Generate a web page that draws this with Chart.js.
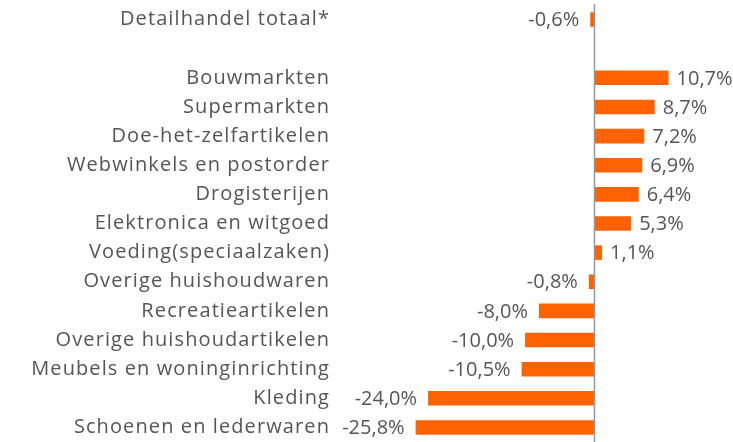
<!DOCTYPE html>
<html>
<head>
<meta charset="utf-8">
<script src="https://cdn.jsdelivr.net/npm/chart.js@4"></script>
<style>
html,body{margin:0;padding:0;background:#fff;}
#wrap{width:733px;height:442px;}
</style>
</head>
<body>
<div id="wrap"><canvas id="c" width="733" height="442"></canvas></div>
<script>
const categories = [
  "Detailhandel totaal*", "",
  "Bouwmarkten", "Supermarkten", "Doe-het-zelfartikelen", "Webwinkels en postorder",
  "Drogisterijen", "Elektronica en witgoed", "Voeding(speciaalzaken)", "Overige huishoudwaren",
  "Recreatieartikelen", "Overige huishoudartikelen", "Meubels en woninginrichting", "Kleding",
  "Schoenen en lederwaren"
];
const values = [-0.6, null, 10.7, 8.7, 7.2, 6.9, 6.4, 5.3, 1.1, -0.8, -8.0, -10.0, -10.5, -24.0, -25.8];
const xMin = -37, xMax = 20;

const FONT = "'Open Sans', sans-serif";
const TEXT = '#555555';
const BAR = '#FF6200';

const fmt = v => (v < 0 ? '-' : '') + Math.abs(v).toFixed(1).replace('.', ',') + '%';

const spacing = {
  id: 'spacing',
  beforeDraw(chart) { chart.ctx.letterSpacing = '1.1px'; },
  beforeDatasetsDraw(chart) { chart.ctx.letterSpacing = '0px'; }
};

const zeroLine = {
  id: 'zeroLine',
  afterDatasetsDraw(chart) {
    const ctx = chart.ctx, x = chart.scales.x.getPixelForValue(0), a = chart.chartArea;
    ctx.save();
    ctx.strokeStyle = '#8c9aab';
    ctx.lineWidth = 1.5;
    ctx.beginPath();
    ctx.moveTo(Math.round(x) + 0.5, a.top - 1);
    ctx.lineTo(Math.round(x) + 0.5, a.bottom + 1);
    ctx.stroke();
    ctx.restore();
  }
};

const barLabels = {
  id: 'barLabels',
  afterDatasetsDraw(chart) {
    const ctx = chart.ctx;
    const meta = chart.getDatasetMeta(0);
    ctx.save();
    ctx.letterSpacing = '0px';
    ctx.font = '20px ' + FONT;
    ctx.fillStyle = TEXT;
    ctx.textBaseline = 'middle';
    meta.data.forEach((el, i) => {
      const v = values[i];
      if (v === null || v === undefined) return;
      if (v >= 0) { ctx.textAlign = 'left'; ctx.fillText(fmt(v), el.x + 8, el.y + 1); }
      else { ctx.textAlign = 'right'; ctx.fillText(fmt(v), el.x - 11, el.y + 1); }
    });
    ctx.restore();
  }
};

new Chart(document.getElementById('c'), {
  type: 'bar',
  data: {
    labels: categories,
    datasets: [{
      data: values,
      backgroundColor: BAR,
      borderWidth: 0,
      categoryPercentage: 1,
      barPercentage: 0.5
    }]
  },
  options: {
    indexAxis: 'y',
    responsive: false,
    animation: false,
    layout: { padding: { top: 5, bottom: 0, left: 0, right: 0 } },
    plugins: { legend: { display: false }, tooltip: { enabled: false } },
    scales: {
      x: { display: false, min: xMin, max: xMax },
      y: {
        grid: { display: false, drawTicks: false },
        border: { display: false },
        ticks: { color: TEXT, font: { family: FONT, size: 20 }, padding: 8, autoSkip: false },
        afterFit(scale) { scale.width = 338; scale.paddingTop = 0; scale.paddingBottom = 0; }
      }
    }
  },
  plugins: [spacing, zeroLine, barLabels]
});
</script>
</body>
</html>
